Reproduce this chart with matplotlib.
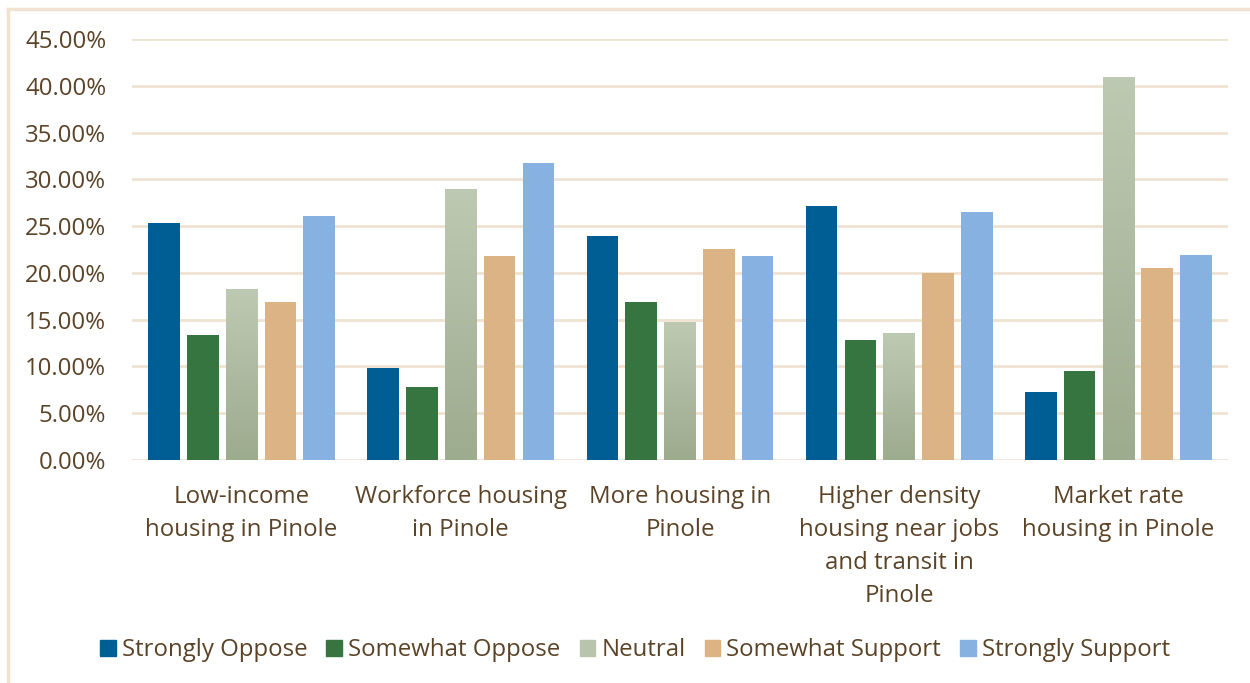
import matplotlib.pyplot as plt
import matplotlib.patches as mpatches
import numpy as np
from matplotlib.colors import LinearSegmentedColormap

categories = ["Low-income\nhousing in Pinole", "Workforce housing\nin Pinole",
              "More housing in\nPinole", "Higher density\nhousing near jobs\nand transit in\nPinole",
              "Market rate\nhousing in Pinole"]
series = ["Strongly Oppose", "Somewhat Oppose", "Neutral", "Somewhat Support", "Strongly Support"]
strongly_oppose = [25.33, 9.83, 23.94, 27.15, 7.27]
somewhat_oppose = [13.36, 7.80, 16.90, 12.83, 9.50]
neutral = [18.28, 28.97, 14.75, 13.57, 40.94]
somewhat_support = [16.90, 21.80, 22.55, 19.99, 20.52]
strongly_support = [26.08, 31.74, 21.80, 26.50, 21.90]
values = [strongly_oppose, somewhat_oppose, neutral, somewhat_support, strongly_support]
colors = ["#005E95", "#377540", "#B5C2A8", "#DBB385", "#86B1E0"]

text_c = "#5B4327"
grid_c = "#F0E2D0"
fs = 17.3
plt.rcParams['font.family'] = ['Open Sans', 'DejaVu Sans']

fig = plt.figure(figsize=(12.5, 6.83), dpi=100)
ax = fig.add_axes([132 / 1250, 1 - 460 / 683, 1096 / 1250, 421 / 683])

# frame around chart area
fig.add_artist(plt.Line2D([8 / 1250, 8 / 1250], [0, 1 - 9 / 683], color=grid_c, lw=2.5))
fig.add_artist(plt.Line2D([8 / 1250, 1], [1 - 9 / 683, 1 - 9 / 683], color=grid_c, lw=2.5))

x = np.arange(len(categories))
w = 0.145
step = 0.177
grad = LinearSegmentedColormap.from_list("g", ["#9DAB8E", "#BEC9B3"])
for i, (vals, c) in enumerate(zip(values, colors)):
    pos = x + (i - 2) * step
    bars = ax.bar(pos, vals, width=w, color=c, zorder=3, label=series[i])
    if series[i] == "Neutral":
        for b in bars:
            bx, by = b.get_x(), b.get_height()
            img = ax.imshow(np.linspace(0, 1, 100).reshape(-1, 1), cmap=grad, origin="lower",
                            extent=[bx, bx + w, 0, by], aspect="auto", zorder=4)
            img.set_clip_path(b)

ax.set_xlim(-0.5, 4.5)
ax.set_ylim(0, 45)
ax.set_yticks(np.arange(0, 46, 5))
ax.set_yticklabels([f"{v:.2f}%" for v in np.arange(0, 46, 5)])
ax.set_xticks(x)
ax.set_xticklabels(categories, linespacing=1.5)
ax.yaxis.grid(True, color=grid_c, lw=2)
ax.set_axisbelow(True)
for s in ax.spines.values():
    s.set_visible(False)
ax.tick_params(length=0, labelsize=fs, colors=text_c)
ax.tick_params(axis="y", pad=18.5)
ax.tick_params(axis="x", pad=18)

handles = [mpatches.Patch(color=c) for c in colors]
handles[2] = mpatches.Patch(color="#B8C4AB")
fig.legend(handles, series, loc="center", bbox_to_anchor=(0.508, 1 - 650 / 683), ncol=5,
           frameon=False, fontsize=fs, labelcolor=text_c, handlelength=0.65, handleheight=0.65,
           handletextpad=0.25, columnspacing=0.8)

fig.savefig("out.png", dpi=100)
